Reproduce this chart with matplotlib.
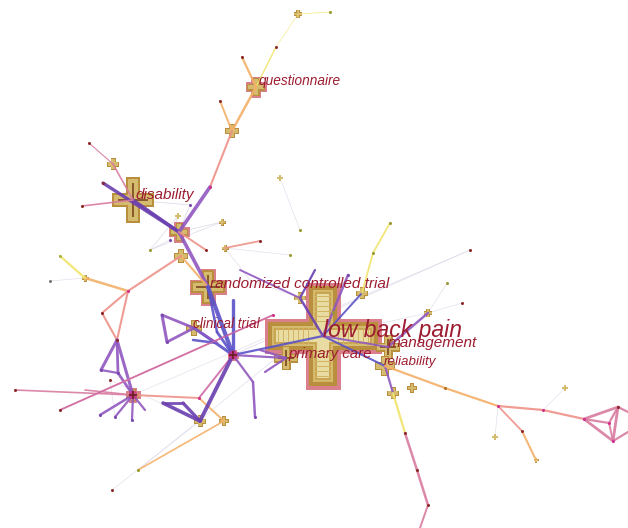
import matplotlib.pyplot as plt
from matplotlib.patches import Rectangle, Circle

# keyword co-occurrence network (layout in pixel units, y downward)
node_x = [323, 208, 133, 256, 194, 286, 388, 385, 232, 113,
          179, 181, 300, 362, 393, 412, 200, 224, 133, 233,
          298, 280, 222, 225, 85, 428, 495, 565, 536, 178,
          330, 276, 242, 220, 210, 103, 82, 89, 206, 128,
          102, 117, 60, 50, 101, 118, 15, 100, 115, 132,
          199, 163, 183, 255, 162, 167, 60, 273, 348, 373,
          390, 462, 447, 405, 417, 428, 420, 445, 498, 543,
          584, 618, 609, 613, 628, 628, 522, 315, 250, 260,
          265, 145, 233, 193, 217, 217, 260, 290, 253, 85,
          240, 300, 170, 190, 150, 112, 138, 110, 333, 470]
node_y = [336, 287, 200, 87, 328, 358, 347, 366, 131, 164,
          232, 256, 298, 293, 393, 388, 421, 421, 395, 355,
          14, 178, 222, 248, 278, 313, 437, 388, 460, 216,
          12, 47, 57, 101, 187, 183, 206, 143, 250, 291,
          313, 340, 256, 281, 370, 373, 390, 415, 417, 420,
          398, 403, 403, 417, 315, 342, 410, 315, 275, 253,
          223, 303, 283, 433, 470, 505, 528, 388, 406, 410,
          419, 407, 423, 441, 412, 432, 431, 270, 280, 350,
          372, 410, 300, 340, 343, 332, 241, 255, 382, 390,
          270, 230, 240, 205, 250, 490, 470, 380, 312, 250]

# crosses: node index, half arm x, half arm y, half thickness, outlined
cross_nodes = [0, 1, 2, 3, 4, 5, 6, 7, 8, 9, 10, 11, 12, 13, 14, 15, 16, 17,
               18, 19, 20, 21, 22, 23, 24, 25, 26, 27, 28, 29]
cross_hx = [55, 17, 21, 9, 8, 12, 12, 10, 7, 6, 9, 7, 6, 6, 6, 5, 6, 5,
            6, 4, 4, 3, 3.5, 3.5, 3.5, 4, 3, 3, 2.5, 3]
cross_hy = [50, 17, 23, 9, 8, 12, 12, 10, 7, 6, 9, 7, 6, 6, 6, 5, 6, 5,
            6, 4, 4, 3, 3.5, 3.5, 3.5, 4, 3, 3, 2.5, 3]
cross_t = [14, 6, 7, 3.5, 3, 4.5, 4.5, 4, 3, 2.5, 3.5, 3, 2.2, 2.5, 2.5, 2,
           2.5, 2, 2.5, 2, 1.6, 1.3, 1.5, 1.5, 1.5, 1.6, 1.2, 1.2, 1.1, 1.2]
cross_ring = [1, 1, 0, 1, 0, 0, 0, 0, 0, 0, 1, 0, 0, 0, 0, 0, 0, 0,
              1, 1, 0, 0, 0, 0, 0, 0, 0, 0, 0, 0]

# edges: (from, to, colour key, width)
edges = [
    (20, 30, 'y', 0.5), (20, 31, 'y', 0.4), (31, 3, 'y', 1.0), (32, 3, 'o', 1.6),
    (3, 8, 'o', 1.8), (33, 8, 'o', 1.4), (8, 34, 's', 1.5), (34, 10, 'p', 2.6),
    (35, 10, 'd', 2.4), (2, 10, 'd', 2.4), (9, 2, 'k', 1.2), (37, 9, 'k', 0.8),
    (36, 2, 'k', 1.2), (10, 1, 'p', 2.6), (10, 38, 's', 1.4), (11, 1, 'o', 1.5),
    (11, 39, 's', 1.5), (39, 24, 'o', 1.8), (24, 42, 'y', 1.6), (24, 43, 'g', 0.4),
    (39, 40, 's', 1.5), (40, 41, 's', 1.5), (39, 41, 's', 1.5), (41, 44, 'p', 2.2),
    (41, 45, 'p', 2.0), (44, 45, 'p', 1.6), (45, 18, 'p', 2.0), (41, 18, 'p', 2.2),
    (46, 18, 'k', 1.2), (89, 18, 'k', 1.2), (18, 47, 'p', 1.8), (18, 48, 'p', 1.6),
    (18, 49, 'p', 1.6), (18, 81, 'p', 1.6), (18, 50, 's', 1.4), (56, 57, 'k', 1.3),
    (50, 19, 'm', 1.4), (50, 17, 'o', 1.4), (51, 16, 'd', 2.6), (51, 52, 'd', 2.0),
    (52, 16, 'd', 2.4), (16, 19, 'd', 2.8), (88, 53, 'p', 1.8), (19, 88, 'p', 1.6),
    (54, 55, 'p', 2.2), (55, 4, 'p', 2.0), (54, 4, 'p', 2.0), (1, 19, 'b', 3.0),
    (82, 19, 'b', 2.4), (4, 19, 'b', 2.2), (83, 84, 'b', 1.8), (85, 19, 'b', 2.0),
    (1, 85, 'b', 1.8), (4, 84, 'p', 1.6), (19, 0, 'b', 1.6), (19, 5, 'p', 1.6),
    (79, 5, 'p', 1.6), (80, 5, 'p', 1.6), (12, 0, 'd', 1.8), (77, 12, 'd', 1.6),
    (90, 12, 'p', 1.4), (58, 0, 'p', 1.8), (13, 0, 'b', 1.4), (13, 59, 'y', 1.3),
    (59, 60, 'y', 1.3), (25, 6, 'p', 1.8), (25, 61, 'g', 0.4), (25, 62, 'g', 0.4),
    (0, 7, 'b', 1.5), (7, 14, 'p', 1.6), (6, 0, 'p', 1.4), (14, 63, 'y', 1.6),
    (63, 64, 'k', 1.8), (64, 65, 'k', 1.8), (65, 66, 'k', 1.4), (7, 67, 'o', 1.6),
    (67, 68, 'o', 1.6), (68, 69, 's', 1.6), (69, 70, 's', 1.6), (68, 76, 's', 1.3),
    (76, 28, 'o', 1.5), (70, 71, 'k', 2.0), (70, 73, 'k', 2.0), (70, 72, 'k', 1.6),
    (71, 73, 'k', 2.0), (72, 71, 'k', 1.6), (73, 75, 'k', 1.6), (71, 74, 'k', 1.6),
    (72, 73, 'k', 1.4), (86, 23, 's', 1.3), (87, 23, 'g', 0.4), (57, 56, 'm', 0.9),
    (68, 26, 'g', 0.4), (69, 27, 'g', 0.4), (17, 96, 'o', 1.2), (96, 98, 'g', 0.4),
    (16, 95, 'g', 0.4), (16, 97, 'g', 0.4), (18, 99, 'g', 0.4), (19, 99, 'g', 0.5),
    (92, 29, 'g', 0.6), (93, 10, 'g', 0.6), (94, 22, 'g', 0.5), (92, 94, 'g', 0.5),
    (2, 93, 'g', 0.5), (91, 21, 'g', 0.4), (22, 10, 'g', 0.5), (29, 94, 'g', 0.5),
    (78, 23, 'g', 0.4), (48, 97, 'g', 0.4), (0, 25, 'g', 0.4), (12, 78, 'g', 0.4),
]

edge_colors = {
    'd': '#6a3fb0', 'b': '#5a52c8', 'p': '#9058c0', 'm': '#d06aa6',
    'k': '#d97ba0', 's': '#ee9288', 'o': '#f4b068', 'y': '#f1e46a',
    'g': '#ddd8e8',
}

labels = ['low back pain', 'randomized controlled trial', 'disability',
          'questionnaire', 'clinical trial', 'primary care', 'management',
          'reliability']
label_x = [323, 210, 135, 259, 193, 288, 388, 384]
label_y = [330, 284, 195, 81, 324, 354, 343, 362]
label_size = [16.5, 11, 11, 9.8, 9.8, 10.8, 11, 9.6]

# small dots coloured by period
dot_nodes = [30, 31, 32, 33, 34, 35, 36, 37, 38, 39, 40, 41, 42, 43, 44, 45,
             46, 47, 48, 49, 50, 51, 52, 53, 54, 55, 56, 57, 58, 59, 60, 61,
             62, 63, 64, 65, 67, 68, 69, 70, 71, 72, 73, 76, 86, 87, 91, 92,
             93, 94, 95, 96, 97, 98, 99]
dot_colors = ['#9a9a30', '#8b2a2a', '#8b2a2a', '#8b2a2a', '#d0308a', '#8b2a2a',
              '#8b2a2a', '#8b2a2a', '#8b2a2a', '#d0308a', '#8b2a2a', '#8b2a2a',
              '#b0b040', '#777777', '#7a4ab0', '#7a4ab0', '#8b2a2a', '#7a4ab0',
              '#7a4ab0', '#7a4ab0', '#d0308a', '#7a4ab0', '#7a4ab0', '#7a4ab0',
              '#7a4ab0', '#7a4ab0', '#8b2a2a', '#d0308a', '#7a4ab0', '#9a9a30',
              '#9a9a30', '#8b2a2a', '#9a9a30', '#8b2a2a', '#8b2a2a', '#8b2a2a',
              '#b87020', '#d0308a', '#d0308a', '#d0308a', '#8b2a2a', '#d0308a',
              '#d0308a', '#8b2a2a', '#8b2a2a', '#9a9a30', '#9a9a30', '#7a4ab0',
              '#7a4ab0', '#9a9a30', '#8b2a2a', '#9a9a30', '#8b2a2a', '#9a9a30',
              '#8b2a2a']


def cross(ax, x, y, hx, hy, t, ring, big=False):
    layers = []
    if ring:
        layers.append(('#d9808c', -max(1.5, t * 0.25)))
    layers.append(('#b98e3c', 0))
    layers.append(('#d5bb6e', t * 0.3))
    if big:
        layers.append(('#c9a452', t * 0.45))
        layers.append(('#e8dca2', t * 0.6))
    else:
        layers.append(('#8a5a2c', t * 0.88))
    for c, d in layers:
        ax.add_patch(Rectangle((x - hx + d, y - t + d), 2 * (hx - d), 2 * (t - d),
                               facecolor=c, lw=0, zorder=3))
        ax.add_patch(Rectangle((x - t + d, y - hy + d), 2 * (t - d), 2 * (hy - d),
                               facecolor=c, lw=0, zorder=3))
    if big:
        # ladder stripes inside the arms
        for k in range(-9, 10):
            yy = y + k * 5
            if abs(yy - y) > t:
                ax.add_patch(Rectangle((x - t * 0.6, yy - 0.5), t * 1.2, 1.0,
                                       facecolor='#d3b462', lw=0, zorder=3))
        for k in range(-10, 11):
            xx = x + k * 5
            if abs(xx - x) > t:
                ax.add_patch(Rectangle((xx - 0.5, y - t * 0.6), 1.0, t * 1.2,
                                       facecolor='#d3b462', lw=0, zorder=3))


fig = plt.figure(figsize=(6.28, 5.28), dpi=100)
ax = fig.add_axes([0, 0, 1, 1])
ax.set_xlim(0, 628)
ax.set_ylim(528, 0)
ax.axis('off')

for a, b, c, w in edges:
    z = 2 if c == 'g' else 4
    ax.plot([node_x[a], node_x[b]], [node_y[a], node_y[b]],
            color=edge_colors[c], lw=w, solid_capstyle='round', zorder=z,
            alpha=0.9 if c != 'g' else 1)

for i, n in enumerate(cross_nodes):
    cross(ax, node_x[n], node_y[n], cross_hx[i], cross_hy[i], cross_t[i],
          cross_ring[i], big=(i == 0))

# magenta rings of the two hub nodes
for n in (18, 19):
    ax.add_patch(Circle((node_x[n], node_y[n]), 4.5, facecolor='#d0308a',
                        edgecolor='none', alpha=0.8, zorder=5))
    ax.plot(node_x[n], node_y[n], '+', color='#6a2020', ms=6, mew=1.2, zorder=6)

for n, c in zip(dot_nodes, dot_colors):
    ax.plot(node_x[n], node_y[n], 'o', color=c, ms=2.2, mew=0, zorder=5)

for txt, x, y, s in zip(labels, label_x, label_y, label_size):
    ax.text(x, y, txt, fontsize=s, family='Liberation Sans', style='italic',
            color='#9c1c30', ha='left', va='center', zorder=10)

fig.savefig('out.png', dpi=100, facecolor='white')
